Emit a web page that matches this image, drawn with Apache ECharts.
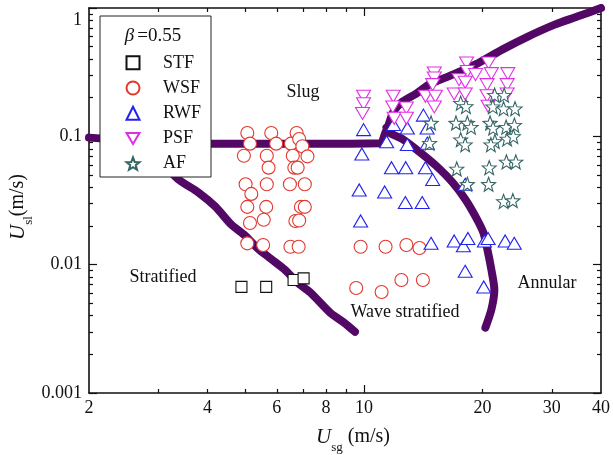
<!DOCTYPE html>
<html><head><meta charset="utf-8">
<script src="https://cdn.jsdelivr.net/npm/echarts@6/dist/echarts.min.js"></script>
<style>html,body{margin:0;padding:0;background:#fff}#c{width:613px;height:455px}</style>
</head><body><div id="c"></div>
<script>
// ---------- tick values ----------
const xTickLabels = [2, 4, 6, 8, 10, 20, 30, 40];
const xMinorTicks = [3, 4, 5, 6, 7, 8, 9, 20, 30];
const xMajorTicks = [10];
const yTickLabels = [0.001, 0.01, 0.1, 1];
const yMajorTicks = [0.001, 0.01, 0.1, 1];
const yMinorTicks = [0.002,0.003,0.004,0.005,0.006,0.007,0.008,0.009,
                     0.02,0.03,0.04,0.05,0.06,0.07,0.08,0.09,
                     0.2,0.3,0.4,0.5,0.6,0.7,0.8,0.9];

// ---------- data: [Usg, Usl] ----------
const STF = [[4.88,0.00671],[5.64,0.00671],[6.62,0.00759],[7.02,0.00782]];
const WSF = [[5.05,0.1063],[5.81,0.1063],[6.74,0.1063],[5.13,0.0877],[5.98,0.0877],[6.52,0.0877],
  [6.84,0.0954],[6.97,0.0836],[4.95,0.0705],[5.66,0.0705],[6.59,0.0705],[7.18,0.0698],
  [5.72,0.057],[6.65,0.057],[6.78,0.057],[5.00,0.0423],[5.17,0.0356],[5.66,0.0423],[6.48,0.0423],[7.07,0.0423],
  [5.05,0.0282],[5.64,0.0282],[6.91,0.0282],[7.07,0.0282],[5.13,0.0211],[5.56,0.0224],[6.69,0.0219],[6.84,0.0221],
  [5.05,0.01466],[5.54,0.01422],[6.50,0.0138],[6.82,0.0138],
  [9.80,0.0138],[11.34,0.0138],[12.81,0.01422],[13.83,0.01349],
  [9.55,0.00658],[11.08,0.00613],[12.44,0.00759],[14.11,0.00759]];
const RWF = [[9.97,0.1128],[9.87,0.0729],[9.72,0.0382],[9.80,0.0219],[11.41,0.0909],[11.74,0.057],[11.28,0.0369],
  [11.88,0.1234],[12.88,0.1162],[12.88,0.0862],[12.76,0.057],[12.73,0.0305],[14.05,0.0305],
  [14.15,0.1463],[14.46,0.1162],[14.48,0.0885],[14.32,0.057],[14.94,0.046],[18.07,0.0423],
  [14.80,0.01466],[16.94,0.0153],[17.88,0.01406],[18.36,0.016],[20.22,0.0153],[20.66,0.016],
  [22.83,0.0153],[24.08,0.01466],[18.07,0.00887],[20.14,0.00671]];
const PSF = [[9.97,0.205],[9.97,0.1798],[9.91,0.1509],[11.86,0.205],[11.83,0.1695],[12.81,0.1665],
  [11.93,0.1381],[12.81,0.1381],[15.08,0.3119],[15.08,0.2852],[14.94,0.2529],[14.32,0.205],
  [15.17,0.205],[15.08,0.1695],[18.22,0.3733],[18.30,0.320],[19.20,0.3027],[17.43,0.2766],
  [18.07,0.2636],[16.94,0.214],[18.07,0.214],[20.72,0.3733],[21.06,0.3081],[20.54,0.2529],
  [20.54,0.2075],[20.66,0.1713],[23.19,0.3081],[23.10,0.2529],[23.10,0.214]];
const AF = [[14.80,0.127],[14.67,0.0885],[17.12,0.127],[18.30,0.127],[18.70,0.118],[17.60,0.0943],
  [18.07,0.0862],[17.20,0.0557],[18.30,0.0423],[17.60,0.1815],[18.15,0.1713],[20.90,0.127],
  [21.27,0.116],[21.50,0.0914],[21.00,0.0862],[20.80,0.057],[20.72,0.0423],[21.47,0.2096],
  [22.70,0.2096],[21.24,0.1705],[22.62,0.1644],[24.19,0.1644],[22.96,0.1179],[24.10,0.1223],
  [23.10,0.0956],[23.96,0.100],[23.00,0.0633],[24.30,0.0633],[22.62,0.0311],[23.88,0.0316]];

// ---------- transition boundaries ----------
const boundarySlug = [[2.0,0.0977],[2.85,0.0909],[4.05,0.0877],[6.78,0.0877],[11.0,0.0885],[11.3,0.105],
  [11.5,0.119],[11.88,0.156],[12.51,0.186],[13.57,0.215],[14.63,0.253],[16.8,0.303],[19.53,0.373],
  [22.44,0.474],[26.08,0.599],[30.5,0.742],[34.82,0.857],[40,1.0]];
const boundaryAnnular = [[11.4,0.117],[11.61,0.1067],[12.58,0.0943],[13.8,0.076],[15.23,0.0591],
  [16.8,0.0436],[18.11,0.0321],[19.2,0.0237],[20.1,0.0178],[20.58,0.0131],[21.06,0.00914],
  [21.43,0.00639],[21.06,0.00446],[20.34,0.00323]];
const boundaryStratified = [[2.54,0.0926],[2.85,0.0788],[3.10,0.0602],[3.38,0.046],[3.80,0.0364],
  [4.19,0.0283],[4.60,0.0205],[4.99,0.0168],[5.38,0.0133],[5.80,0.0111],[6.29,0.00914],
  [6.78,0.00724],[7.31,0.00605],[8.20,0.00422],[8.90,0.00353],[9.48,0.0030]];

const FONT = '"Liberation Serif","Times New Roman",serif';
const INK = '#111';
const LINE_COLOR = '#530866';
const STAR = 'path://M10,0 L12.47,6.6 L19.51,6.91 L13.99,11.3 L15.88,18.09 L10,14.2 L4.12,18.09 L6.01,11.3 L0.49,6.91 L7.53,6.6 Z';
const DOWN_TRI = 'path://M0,0 L20,0 L10,17 Z';

function fmt(v){ return String(+(+v).toPrecision(6)); }

function xAx(pos, ticks, len, showLine, showLabel){
  return {type:'log', logBase:10, min:2, max:40, position:pos, gridIndex:0,
    axisLine:{show:showLine, lineStyle:{color:INK, width:1.6}},
    axisTick:{show:true, inside:true, length:len, customValues:ticks, lineStyle:{color:INK, width:1.2}},
    axisLabel: showLabel ? {show:true, customValues:xTickLabels, margin:6, color:INK,
      fontFamily:FONT, fontSize:18, formatter:fmt} : {show:false},
    splitLine:{show:false}, minorTick:{show:false}, minorSplitLine:{show:false}};
}
function yAx(pos, ticks, len, showLine, showLabel){
  return {type:'log', logBase:10, min:0.001, max:1, position:pos, gridIndex:0,
    axisLine:{show:showLine, lineStyle:{color:INK, width:1.6}},
    axisTick:{show:true, inside:true, length:len, customValues:ticks, lineStyle:{color:INK, width:1.2}},
    axisLabel: showLabel ? {show:true, customValues:yTickLabels, margin:7, color:INK,
      fontFamily:FONT, fontSize:18,
      formatter:function(v){ return Math.abs(v-1)<1e-9 ? '{t|1}' : fmt(v); },
      rich:{t:{fontFamily:FONT, fontSize:18, color:INK, padding:[25,0,0,0]}}} : {show:false},
    splitLine:{show:false}, minorTick:{show:false}, minorSplitLine:{show:false}};
}

function scatter(name, data, symbol, size, color){
  return {type:'scatter', name:name, data:data, symbol:symbol, symbolSize:size,
    itemStyle:{color:'#fff', borderColor:color, borderWidth:1.1, opacity:1}, z:5,
    emphasis:{disabled:true}};
}
function boundary(data){
  return {type:'line', data:data, showSymbol:false, smooth:0.25, z:2, silent:true,
    lineStyle:{color:LINE_COLOR, width:8, cap:'round', join:'round'}, emphasis:{disabled:true}};
}

const textStyle = {fontFamily:FONT, fontSize:18, fill:INK};
function label(x, y, t){
  return {type:'text', x:x, y:y, z:50, style:Object.assign({text:t, align:'center', verticalAlign:'middle'}, textStyle)};
}

const chart = echarts.init(document.getElementById('c'), null, {renderer:'canvas'});
chart.setOption({
  animation:false,
  backgroundColor:'#fff',
  grid:{left:89, right:6, top:8, bottom:62, containLabel:false},
  xAxis:[xAx('bottom', xMinorTicks, 4, true, true), xAx('bottom', xMajorTicks, 8, false, false),
         xAx('top', xMinorTicks, 4, true, false), xAx('top', xMajorTicks, 8, false, false)],
  yAxis:[yAx('left', yMajorTicks, 8, true, true), yAx('left', yMinorTicks, 4, false, false),
         yAx('right', yMajorTicks, 8, true, false), yAx('right', yMinorTicks, 4, false, false)],
  legend:{orient:'vertical', left:100, top:16, z:20,
    padding:[37.8,10,4.4,25.5], itemWidth:13, itemHeight:13, itemGap:7.2, symbolKeepAspect:true,
    backgroundColor:'#fff', borderColor:'#222', borderWidth:1,
    textStyle:{fontFamily:FONT, fontSize:18, color:INK, padding:[0,0,0,18.5]},
    data:['STF','WSF','RWF','PSF','AF'], selectedMode:false},
  series:[
    boundary(boundaryStratified), boundary(boundarySlug), boundary(boundaryAnnular),
    scatter('STF', STF, 'rect', 11, '#111'),
    scatter('WSF', WSF, 'circle', 13, '#e3372e'),
    scatter('RWF', RWF, 'triangle', [14,12], '#2222ee'),
    scatter('PSF', PSF, DOWN_TRI, [14,12], '#e030e6'),
    scatter('AF', AF, STAR, 14, '#356565')
  ],
  graphic:[
    label(303, 92, 'Slug'),
    label(163, 277, 'Stratified'),
    label(405, 312, 'Wave stratified'),
    label(547, 283, 'Annular'),
    {type:'text', x:153, y:36, z:50, style:{text:'{b|β}=0.55', align:'center', verticalAlign:'middle',
      fontFamily:FONT, fontSize:19, fill:INK,
      rich:{b:{fontFamily:FONT, fontSize:19, fontStyle:'italic', fill:INK, padding:[0,3,0,0]}}}},
    {type:'text', x:353, y:437, z:50, style:{text:'{u|U}{s|sg}{n| (m/s)}', align:'center', verticalAlign:'middle',
      rich:{u:{fontFamily:FONT, fontSize:21, fontStyle:'italic', fill:INK, lineHeight:35, verticalAlign:'middle'},
            s:{fontFamily:FONT, fontSize:13, fill:INK, lineHeight:13, verticalAlign:'bottom'},
            n:{fontFamily:FONT, fontSize:20, fill:INK, lineHeight:35, verticalAlign:'middle'}}}},
    {type:'text', x:18, y:207, z:50, rotation:Math.PI/2, style:{text:'{u|U}{s|sl}{n|(m/s)}', align:'center', verticalAlign:'middle',
      rich:{u:{fontFamily:FONT, fontSize:21, fontStyle:'italic', fill:INK, lineHeight:35, verticalAlign:'middle'},
            s:{fontFamily:FONT, fontSize:13, fill:INK, lineHeight:13, verticalAlign:'bottom'},
            n:{fontFamily:FONT, fontSize:20, fill:INK, lineHeight:35, verticalAlign:'middle'}}}}
  ]
});
</script></body></html>
